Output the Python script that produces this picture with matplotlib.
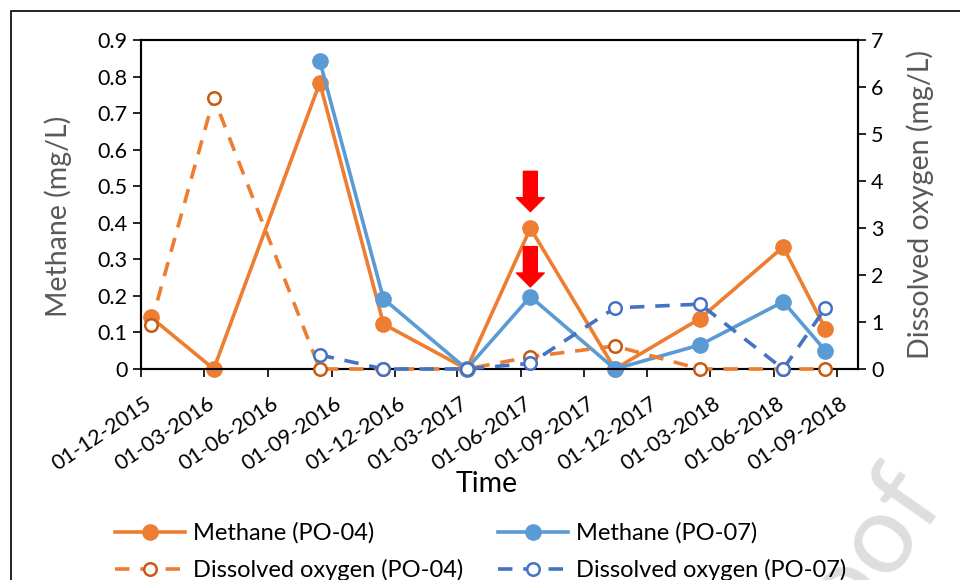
import matplotlib
matplotlib.use("Agg")
import matplotlib.pyplot as plt
import matplotlib.dates as mdates
from matplotlib.ticker import FuncFormatter, MultipleLocator
from matplotlib.transforms import offset_copy, ScaledTranslation
from matplotlib.patches import Rectangle
import numpy as np
import pandas as pd

plt.rcParams["font.family"] = ["Lato", "DejaVu Sans"]

dates = pd.to_datetime(["2015-12-15", "2016-03-15", "2016-08-15", "2016-11-15", "2017-03-15",
                        "2017-06-15", "2017-10-15", "2018-02-15", "2018-06-15", "2018-08-15"])
methane_po04 = [0.142, 0.0, 0.783, 0.123, 0.0, 0.385, 0.0, 0.138, 0.334, 0.109]
methane_po07 = [np.nan, np.nan, 0.843, 0.192, 0.0, 0.198, 0.0, 0.066, 0.184, 0.050]
do_po04 = [0.94, 5.77, 0.0, 0.0, 0.0, 0.26, 0.49, 0.0, 0.0, 0.0]
do_po07 = [np.nan, np.nan, 0.30, 0.0, 0.0, 0.12, 1.30, 1.38, 0.0, 1.30]
tick_dates = pd.date_range("2015-12-01", "2018-09-01", freq="3MS")

orange = "#ED7D31"
orange_dark = "#C55A11"
blue = "#5B9BD5"
blue_dark = "#4472C4"
grey = "#595959"

fig = plt.figure(figsize=(9.6, 5.8), dpi=100)
ax = fig.add_axes([0.1469, 0.3638, 0.7469, 0.5672])
ax2 = ax.twinx()

l1, = ax.plot(dates, methane_po04, color=orange, lw=2.6, marker="o", ms=11,
              label="Methane (PO-04)", clip_on=False, zorder=3)
l2, = ax.plot(dates, methane_po07, color=blue, lw=2.6, marker="o", ms=11,
              label="Methane (PO-07)", clip_on=False, zorder=4)
l3, = ax2.plot(dates, do_po04, color=orange, lw=2.6, ls=(0, (4, 3)), marker="o", ms=9,
               mfc="white", mec=orange_dark, mew=1.8, label="Dissolved oxygen (PO-04)",
               clip_on=False, zorder=3)
l4, = ax2.plot(dates, do_po07, color=blue_dark, lw=2.6, ls=(0, (4, 3)), marker="o", ms=9,
               mfc="white", mec=blue_dark, mew=1.8, label="Dissolved oxygen (PO-07)",
               clip_on=False, zorder=4)

ax.set_xlim(pd.Timestamp("2015-12-01"), pd.Timestamp("2018-10-01"))
ax.set_xticks(tick_dates)
ax.xaxis.set_major_formatter(mdates.DateFormatter("%d-%m-%Y"))
ax.set_ylim(0, 0.9)
ax.yaxis.set_major_locator(MultipleLocator(0.1))
ax.yaxis.set_major_formatter(FuncFormatter(lambda v, p: f"{v:.1f}".rstrip("0").rstrip(".") if v else "0"))
ax2.set_ylim(0, 7)
ax2.yaxis.set_major_locator(MultipleLocator(1))

for a in (ax, ax2):
    a.tick_params(direction="out", length=6, width=1.2, labelsize=15.5, colors="black")
    for s in a.spines.values():
        s.set_linewidth(1.5)
shift = ScaledTranslation(0.14, -0.11, fig.dpi_scale_trans)
for lab in ax.get_xticklabels():
    lab.set_rotation(34)
    lab.set_ha("right")
    lab.set_va("top")
    lab.set_transform(lab.get_transform() + shift)

ax.set_xlabel("Time", fontsize=20.5)
ax.set_ylabel("Methane (mg/L)", fontsize=20.5, color=grey)
ax2.set_ylabel("Dissolved oxygen (mg/L)", fontsize=20.5, color=grey)
ax.xaxis.set_label_coords(0.4826, -0.31)
ax.yaxis.set_label_coords(-0.0962, 0.465)
ax2.yaxis.set_label_coords(1.067, 0.5)

# red arrows above the June 2017 methane peaks
def red_arrow(a, x, y, gap):
    base = offset_copy(a.transData, fig=fig, x=0, y=gap, units="points")
    a.annotate("", xy=(mdates.date2num(x), y), xycoords=base, xytext=(0, 29),
               textcoords="offset points",
               arrowprops=dict(arrowstyle="simple,head_length=1.0,head_width=2.0,tail_width=1.0",
                               color="red", shrinkA=0, shrinkB=0, mutation_scale=10))

red_arrow(ax, dates[5], methane_po04[5], 12)
red_arrow(ax, dates[5], methane_po07[5], 7)

fig.legend(handles=[l1, l3, l2, l4], ncol=2, frameon=False, fontsize=17,
           loc="upper left", bbox_to_anchor=(0.0977, 0.136), handlelength=2.96,
           handletextpad=0.34, columnspacing=1.48, labelspacing=0.64,
           bbox_transform=fig.transFigure)

# outer chart border and watermark
fig.add_artist(Rectangle((11 / 960, -0.1), 1.2, 1.1 - 11 / 580, transform=fig.transFigure,
                         fill=False, ec="black", lw=1.2))
fig.text(0.987, 0.135, "Journal Pre-proof", fontsize=80, color="#DEDEDE", rotation=55,
         ha="right", va="baseline", rotation_mode="anchor", zorder=0)

fig.savefig("out.png", dpi=100)
